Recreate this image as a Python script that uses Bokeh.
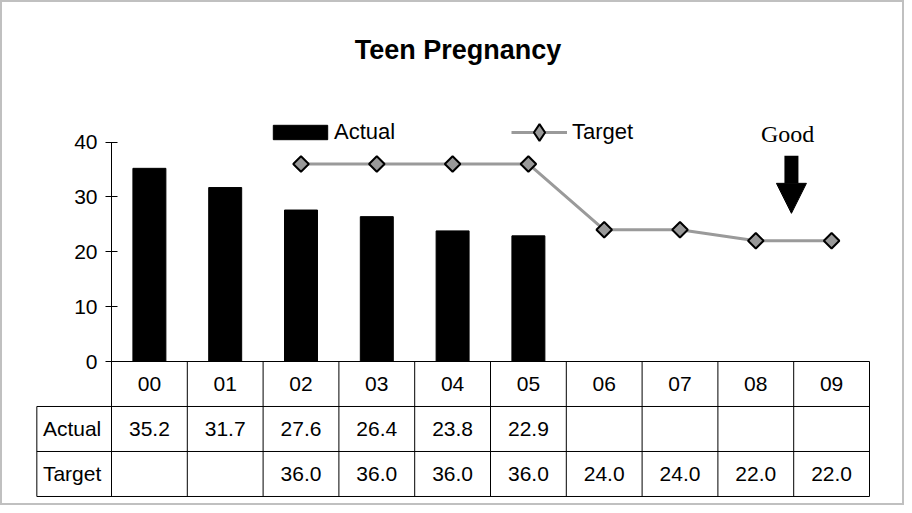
import numpy as np
from bokeh.plotting import figure
from bokeh.models import (Range1d, FixedTicker, ColumnDataSource, Legend, LegendItem,
                          Label, Arrow, NormalHead)
from bokeh.core.properties import value
from bokeh.embed import file_html
from bokeh.resources import INLINE

# ---- data ----
years = ["00", "01", "02", "03", "04", "05", "06", "07", "08", "09"]
actual = [35.2, 31.7, 27.6, 26.4, 23.8, 22.9, None, None, None, None]
target = [None, None, 36.0, 36.0, 36.0, 36.0, 24.0, 24.0, 22.0, 22.0]
y_ticks = [0, 10, 20, 30, 40]
row_labels = ["Actual", "Target"]
title_text = "Teen Pregnancy"
note_text = "Good"

SANS = "Liberation Sans"

n = len(years)
centers = [i + 0.5 for i in range(n)]
tgt_vals = [np.nan if v is None else v for v in target]

# pixel mapping helpers (frame covers the whole figure)
W, H = 904, 505
px_per_cat = 75.8
px_per_unit = 5.4875
x0_px, y0_px = 119 - 8, 369 - 8  # position of (0,0) inside the figure
x_range = Range1d(-x0_px / px_per_cat, (W - x0_px) / px_per_cat)
y_range = Range1d(-(H - y0_px) / px_per_unit, y0_px / px_per_unit)

p = figure(width=W, height=H, x_range=x_range, y_range=y_range,
           output_backend="svg", toolbar_location=None,
           x_axis_location=None, y_axis_location="left",
           min_border=0, min_border_left=0, min_border_right=0,
           min_border_top=0, min_border_bottom=0)
p.outline_line_color = "#c0c0c0"
p.outline_line_width = 3
p.background_fill_color = "white"
p.border_fill_color = "white"
p.grid.visible = False

# y axis drawn at x=0, only from 0 to 40
ax = p.yaxis[0]
ax.fixed_location = 0
ax.bounds = (0, 40)
ax.ticker = FixedTicker(ticks=y_ticks)
ax.minor_tick_line_color = None
ax.major_tick_in = 6
ax.major_tick_out = 6
ax.axis_line_color = "black"
ax.major_tick_line_color = "black"
ax.major_label_text_font = SANS
ax.major_label_text_font_size = "21px"
ax.major_label_text_color = "black"
ax.major_label_standoff = 8

# bars
bar_src = ColumnDataSource(dict(x=[c for c, v in zip(centers, actual) if v is not None],
                                top=[v for v in actual if v is not None]))
bars = p.vbar(x="x", top="top", bottom=0, width=0.435, source=bar_src,
              fill_color="black", line_color="black")

# target line
tline = p.line(centers, tgt_vals, line_color="#9a9a9a", line_width=3)
tpts = p.scatter(centers, tgt_vals, marker="square", angle=np.pi / 4, size=11,
                 fill_color="#999999", line_color="black", line_width=2)
# marker used only for the legend swatch (diamond shape)
leg_marker = p.scatter([np.nan], [np.nan], marker="diamond", size=17,
                       fill_color="#999999", line_color="black", line_width=2)

# data table below the chart
row_h = 8.2
left_x = -0.985
hx0 = [0] + [left_x] * 3
hx1 = [n] * 4
hy = [0, -row_h, -2 * row_h, -3 * row_h]
p.segment(x0=hx0, y0=hy, x1=hx1, y1=hy, line_color="black", line_width=1)
vx = list(range(n + 1)) + [left_x]
vy0 = [0] * (n + 1) + [-row_h]
vy1 = [-3 * row_h] * (n + 2)
p.segment(x0=vx, y0=vy0, x1=vx, y1=vy1, line_color="black", line_width=1)

tfont = dict(text_font=value(SANS), text_font_size="21px", text_color="black")
p.text(x=centers, y=[-row_h / 2] * n, text=years,
       text_align="center", text_baseline="middle", **tfont)
ax_act = [c for c, v in zip(centers, actual) if v is not None]
p.text(x=ax_act, y=[-1.5 * row_h] * len(ax_act),
       text=[f"{v:.1f}" for v in actual if v is not None],
       text_align="center", text_baseline="middle", **tfont)
ax_tgt = [c for c, v in zip(centers, target) if v is not None]
p.text(x=ax_tgt, y=[-2.5 * row_h] * len(ax_tgt),
       text=[f"{v:.1f}" for v in target if v is not None],
       text_align="center", text_baseline="middle", **tfont)
p.text(x=[left_x + 0.08] * 2, y=[-1.5 * row_h, -2.5 * row_h], text=row_labels,
       text_align="left", text_baseline="middle", **tfont)

# legends
leg_a = Legend(items=[LegendItem(label="Actual", renderers=[bars])],
               location=(266, 359), glyph_width=68, glyph_height=18,
               label_height=28, label_standoff=0, padding=0, margin=0,
               border_line_color=None, background_fill_alpha=0,
               label_text_font=SANS, label_text_font_size="22px",
               label_text_color="black")
leg_b = Legend(items=[LegendItem(label="Target", renderers=[tline, leg_marker])],
               location=(511, 352.5), glyph_width=56, glyph_height=42,
               label_height=28, label_standoff=5, padding=0, margin=0,
               border_line_color=None, background_fill_alpha=0,
               label_text_font=SANS, label_text_font_size="22px",
               label_text_color="black")
p.add_layout(leg_a)
p.add_layout(leg_b)

# title
p.add_layout(Label(x=457.5, y=H - 49, x_units="screen", y_units="screen",
                   text=title_text, text_align="center", text_baseline="middle",
                   text_font=SANS, text_font_size="27px", text_font_style="bold",
                   text_color="black"))

# "Good" note with arrow
p.add_layout(Label(x=8.92, y=41.5, text=note_text, text_align="center",
                   text_baseline="middle", text_font="Liberation Serif",
                   text_font_size="24px", text_color="black"))
p.add_layout(Arrow(x_start=8.97, y_start=37.5, x_end=8.97, y_end=27.0,
                   line_width=14, line_color="black",
                   end=NormalHead(size=30, fill_color="black", line_color="black")))

open("out.html", "w").write(file_html(p, INLINE))
